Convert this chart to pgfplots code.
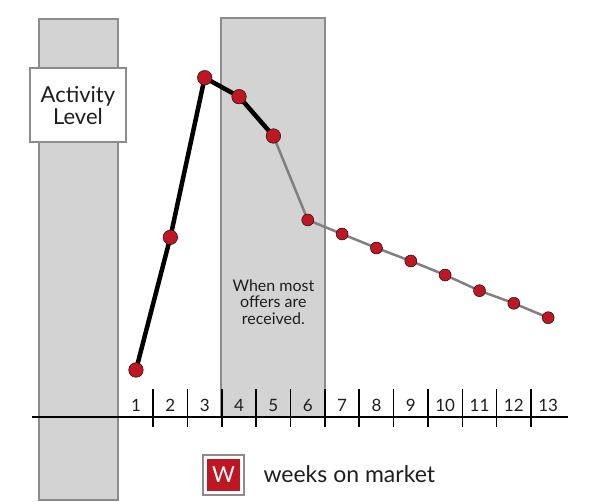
\documentclass[border=0pt]{standalone}
\usepackage{pgfplots}
\pgfplotsset{compat=1.18}
\usepackage{fontspec}
\setmainfont{Lato}
\definecolor{wred}{RGB}{190,22,34}
\definecolor{rectfill}{RGB}{211,211,211}
\definecolor{rectline}{RGB}{140,140,140}
\definecolor{gline}{RGB}{128,128,128}
\definecolor{txt}{RGB}{30,30,30}
\begin{document}
\begin{tikzpicture}
\begin{axis}[
  scale only axis, width=600pt, height=500pt,
  xmin=-2.959, xmax=14.508, ymin=-83, ymax=417,
  axis lines=none, clip=false]
\path (rel axis cs:0,0) rectangle (rel axis cs:1,1);
% shaded columns
\draw[rectline, line width=2pt, fill=rectfill] (axis cs:-1.824,-83) rectangle (axis cs:0.476,398);
\draw[rectline, line width=2pt, fill=rectfill] (axis cs:3.475,0) rectangle (axis cs:6.502,399);
% activity level box
\draw[rectline, line width=2pt, fill=white] (axis cs:-2.086,275) rectangle (axis cs:0.709,349);
\node[txt, align=center, font=\fontsize{22}{22}\selectfont] at (axis cs:-0.69,311) {Activity\\Level};
% annotation
\node[txt, align=center, font=\fontsize{16}{16.5}\selectfont] at (axis cs:5.0,115) {When most\\offers are\\received.};
% x axis line and ticks
\draw[black, line width=2pt] (axis cs:-2.028,0) -- (axis cs:13.576,0);
\pgfplotsinvokeforeach{1.5,2.5,3.5,4.5,5.5,6.5,7.5,8.5,9.5,10.5,11.5,12.5}{
  \draw[black, line width=1.6pt] (axis cs:#1,-10) -- (axis cs:#1,28);
}
\pgfplotsinvokeforeach{1,2,3,4,5,6,7,8,9,10,11,12,13}{
  \node[txt, font=\fontsize{17}{18}\selectfont] at (axis cs:#1,12) {#1};
}
% lines
\addplot[gline, line width=2.5pt] coordinates {(5,281) (6,197) (7,183) (8,169) (9,156) (10,142) (11,126.3) (12,113.7) (13,99.3)};
\addplot[black, line width=4.5pt] coordinates {(1,47) (2,179.7) (3,339.3) (4,320.3) (5,281)};
% markers
\addplot[only marks, mark=*, mark size=6pt, mark options={draw=none, fill=wred}] coordinates {(6,197) (7,183) (8,169) (9,156) (10,142) (11,126.3) (12,113.7) (13,99.3)};
\addplot[only marks, mark=*, mark size=7.3pt, mark options={draw=none, fill=wred}] coordinates {(1,47) (2,179.7) (3,339.3) (4,320.3) (5,281)};
% legend
\draw[rectline, line width=1.2pt, fill=white] (axis cs:2.95,-38) rectangle (axis cs:4.144,-78);
\fill[wred] (axis cs:3.067,-42) rectangle (axis cs:4.028,-74);
\node[white, font=\fontsize{22}{24}\selectfont] at (axis cs:3.547,-58) {W};
\node[txt, anchor=base west, font=\fontsize{23}{26}\selectfont] at (axis cs:4.61,-65) {weeks on market};
\end{axis}
\end{tikzpicture}
\end{document}
